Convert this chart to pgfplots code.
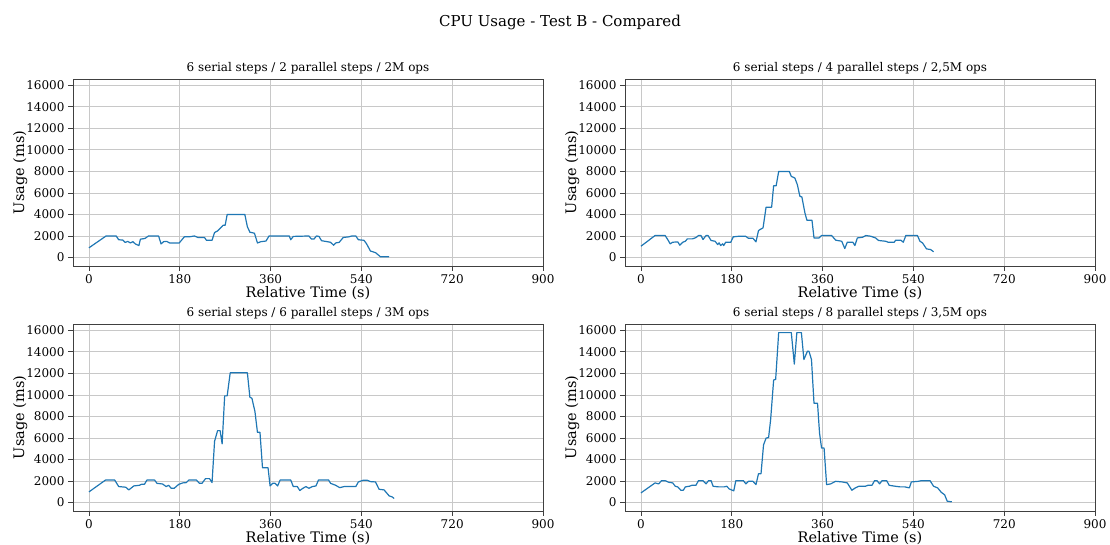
\documentclass[border=0pt]{standalone}
\usepackage{pgfplots}
\pgfplotsset{compat=1.18}
\usepackage{fontspec}
\setmainfont{DejaVu Serif}
\definecolor{mplblue}{HTML}{1F77B4}
\definecolor{gridgray}{HTML}{C8C8C8}
\pgfplotsset{
  myax/.style={
    width=470pt, height=187pt, scale only axis, anchor=south west,
    xmin=-31.6, xmax=900, ymin=-790, ymax=16590,
    xtick={0,180,360,540,720,900},
    ytick={0,2000,4000,6000,8000,10000,12000,14000,16000},
    scaled ticks=false,
    /pgf/number format/assume math mode=true,
    /pgf/number format/fixed,
    /pgf/number format/1000 sep={},
    xticklabel={\pgfmathprintnumber[assume math mode=true,fixed,1000 sep={}]{\tick}},
    yticklabel={\pgfmathprintnumber[assume math mode=true,fixed,1000 sep={}]{\tick}},
    grid=major, major grid style={color=gridgray, line width=0.8pt},
    axis line style={color=black!75, line width=0.8pt},
    tick align=outside, tick pos=left,
    major tick length=5pt,
    tick style={color=black!75, line width=0.8pt},
    tick label style={font=\fontsize{12}{14}\selectfont},
    xlabel={Relative Time (s)}, ylabel={Usage (ms)},
    label style={font=\fontsize{14.5}{16}\selectfont},
    xlabel style={yshift=4pt},
    ylabel style={yshift=-8pt},
    title style={font=\fontsize{12}{14}\selectfont, yshift=-5pt},
  },
  myline/.style={color=mplblue, line width=1.2pt, line join=round}
}
\begin{document}
\begin{tikzpicture}
\useasboundingbox (0,0) rectangle (1110pt,545pt);
\node[font=\fontsize{15}{18}\selectfont] at (560pt,523pt) {CPU Usage - Test B - Compared};
% Plot 1
\begin{axis}[myax, at={(73pt,279pt)}, title={6 serial steps / 2 parallel steps / 2M ops}]
\addplot[myline] coordinates {
(0,900)(34,2000)(54,2000)(59,1650)(67,1620)(72,1400)(77,1500)(82,1350)(87,1470)(92,1260)(99,1110)
(102,1700)(111,1770)(118,2000)(138,2000)(143,1260)(148,1470)(154,1500)(160,1350)(179,1350)
(189,1920)(199,1920)(209,2000)(216,1860)(229,1860)(233,1600)(244,1600)
(249,2320)(255,2470)(262,2800)(266,3000)(270,3000)(274,4000)(309,4000)
(314,2860)(319,2350)(328,2260)(334,1350)(341,1470)(351,1530)(357,2000)(397,2000)(400,1650)(405,1960)
(436,2000)(441,1710)(446,1710)(451,2000)(456,1960)(461,1560)(476,1440)(479,1410)(485,1140)(489,1350)
(496,1410)(504,1860)(515,1920)(521,2000)(529,2000)(534,1650)(545,1600)(550,1290)(558,600)(568,450)
(578,60)(595,60)
};
\end{axis}
% Plot 2
\begin{axis}[myax, at={(625pt,279pt)}, title={6 serial steps / 4 parallel steps / 2,5M ops}]
\addplot[myline] coordinates {
(0,1050)(28,2040)(48,2040)(53,1670)(58,1270)(63,1420)(73,1450)(77,1140)(83,1420)(88,1510)(92,1730)
(102,1730)(109,1850)(114,2040)(119,2040)(123,1670)(129,2040)(133,2040)(139,1580)(147,1510)(152,1200)
(155,1360)(158,1110)(162,1270)(164,1110)(168,1420)(178,1420)
(183,1920)(195,1980)(207,1980)(213,1790)(222,1790)(228,1450)(233,2500)(236,2600)(242,2750)(248,4670)
(259,4670)(263,6670)(268,6670)(273,8000)(294,8000)(298,7540)(305,7390)(310,6770)(315,5690)(319,5620)
(325,4140)(329,3460)(339,3460)(343,1820)(353,1820)(358,2040)(378,2040)(386,1610)(398,1510)(404,830)
(409,1420)(420,1420)(424,1110)(429,1820)(439,1880)(446,2040)(455,1980)(465,1820)(471,1580)(485,1510)
(490,1420)(502,1420)(505,1610)(515,1610)(520,1420)(525,2040)(548,2040)(553,1510)(558,1360)(566,800)
(574,740)(580,530)
};
\end{axis}
% Plot 3
\begin{axis}[myax, at={(73pt,34pt)}, title={6 serial steps / 6 parallel steps / 3M ops}]
\addplot[myline] coordinates {
(0,985)(33,2090)(51,2090)(59,1480)(73,1420)(79,1170)(89,1540)(100,1600)(104,1690)(110,1690)(115,2090)
(130,2090)(135,1780)(146,1720)(153,1480)(158,1600)(163,1320)(169,1320)(178,1690)(186,1820)(193,1850)
(198,2090)(213,2090)(219,1780)(224,1780)(231,2220)(239,2220)(244,1850)
(249,5690)(255,6680)(260,6680)(264,5450)(269,9910)(274,9910)(280,12060)(314,12060)(319,9780)(323,9690)
(329,8460)(334,6520)(339,6520)(344,3230)(355,3230)(359,1540)(364,1780)(369,1780)(374,1540)(379,2090)
(400,2090)(405,1480)(413,1480)(418,1110)(423,1290)(430,1480)(436,1320)(443,1480)(450,1540)(455,2090)
(475,2090)(479,1780)(489,1600)(497,1380)(506,1480)(529,1480)(534,1910)(543,2060)(552,2060)(558,1940)
(568,1910)(575,1230)(585,1170)(595,615)(601,520)(605,370)
};
\end{axis}
% Plot 4
\begin{axis}[myax, at={(625pt,34pt)}, title={6 serial steps / 8 parallel steps / 3,5M ops}]
\addplot[myline] coordinates {
(0,890)(28,1820)(35,1730)(41,2030)(48,2030)(55,1880)(63,1820)(68,1510)(73,1450)(79,1140)(84,1140)
(88,1450)(96,1510)(101,1600)(109,1600)(114,2030)(123,2030)(129,1730)(134,2030)(139,2030)(143,1510)
(154,1450)(165,1450)(170,1510)(175,1260)(184,1080)(188,2030)(203,2030)(208,1730)(213,1970)(222,1970)
(228,1660)(233,2680)(238,2680)(243,5360)(248,5980)(253,6040)(257,7680)(263,11380)(267,11440)
(273,15790)(298,15790)(304,12860)(309,15790)(318,15790)(323,13290)(330,14060)(333,14060)(338,13290)
(343,9220)(350,9220)(354,6440)(358,5060)(363,5060)(368,1660)(376,1730)(386,1970)(399,1910)(409,1820)
(418,1140)(425,1360)(432,1510)(445,1510)(450,1600)(458,1600)(463,2030)(468,2030)(473,1730)(478,2030)
(487,2030)(492,1600)(504,1510)(514,1450)(523,1450)(532,1360)(536,1910)(550,1970)(556,2030)(573,2030)
(580,1510)(588,1360)(595,960)(602,710)(607,120)(616,60)
};
\end{axis}
\end{tikzpicture}
\end{document}
